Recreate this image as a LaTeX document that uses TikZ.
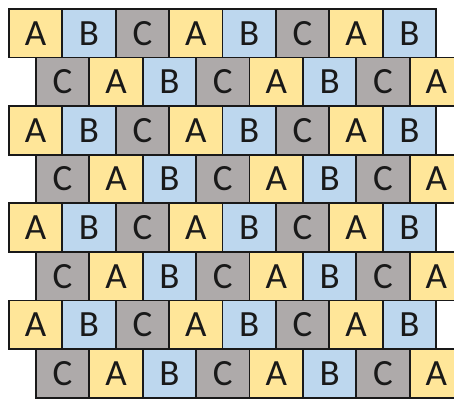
\documentclass[tikz,border=0pt]{standalone}
\usepackage{fontspec}
\setmainfont{Carlito}
\usepackage{tikz}
\usetikzlibrary{positioning}
\definecolor{tileA}{HTML}{FFE699}
\definecolor{tileB}{HTML}{BDD7EE}
\definecolor{tileC}{HTML}{AEAAAA}
\begin{document}
\begin{tikzpicture}[x=1pt,y=-1pt,
  tile/.style={draw=black!90,line width=1.8pt,minimum width=53.4pt,minimum height=48.6pt,
    inner sep=0pt,anchor=north west,text=black!90,font=\fontsize{37}{37}\selectfont}]
  \useasboundingbox (0,0) rectangle (454,398);
  \clip (0,0) rectangle (454,398);
  \foreach \r in {0,...,7}{
    \pgfmathtruncatemacro{\odd}{mod(\r,2)}
    \foreach \j in {0,...,7}{
      \pgfmathtruncatemacro{\k}{mod(\j+2*\odd,3)}
      \ifcase\k \def\lt{A}\or \def\lt{B}\or \def\lt{C}\fi
      \node[tile,fill=tile\lt] (t\r-\j) at (8+27*\odd+53.4*\j,8+48.6*\r) {\lt};
    }
  }
\end{tikzpicture}
\end{document}
